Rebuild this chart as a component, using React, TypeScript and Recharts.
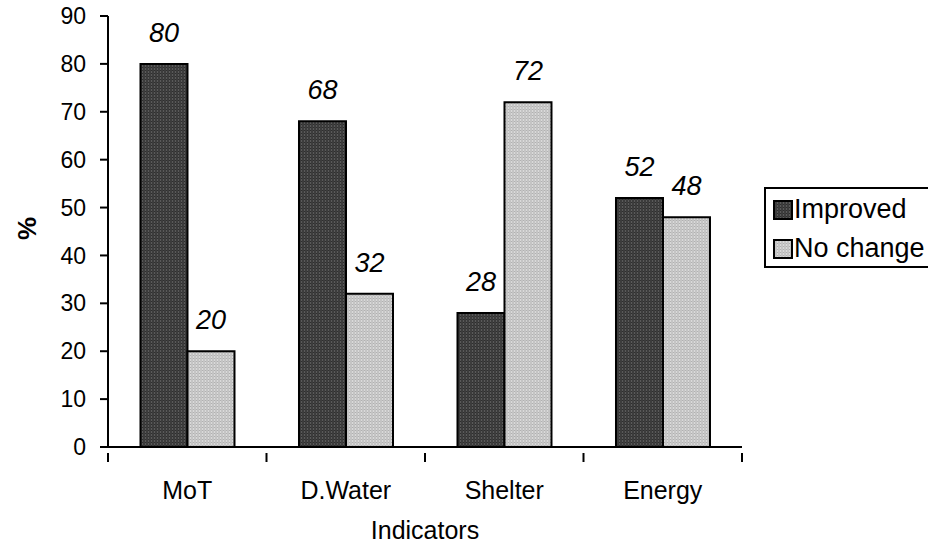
import React from 'react';
import { BarChart, Bar, XAxis, YAxis, LabelList } from 'recharts';

const indicators = ['MoT', 'D.Water', 'Shelter', 'Energy'];
const improved = [80, 68, 28, 52];
const noChange = [20, 32, 72, 48];
const yTicks = [0, 10, 20, 30, 40, 50, 60, 70, 80, 90];

const data = indicators.map((name, i) => ({
  name,
  improved: improved[i],
  noChange: noChange[i],
}));

const W = 928;
const H = 547;
const margin = { top: 16, right: 186, left: 0, bottom: 0 };
const Y_AXIS_W = 108;
const X_AXIS_H = 100;
const plotW = W - margin.right - Y_AXIS_W;
const band = plotW / indicators.length;
const FONT = '"Liberation Sans", Arial, sans-serif';

const series = [
  { key: 'improved', label: 'Improved', fill: 'url(#darkFill)' },
  { key: 'noChange', label: 'No change', fill: 'url(#lightFill)' },
];

// tick marks sit on the category boundaries, labels in the middle
const CategoryTick = (props: any) => {
  const { x, y, payload, index } = props;
  const left = x - band / 2;
  const right = x + band / 2;
  return (
    <g>
      <line x1={left} y1={y - 2} x2={left} y2={y + 7} stroke="#000" strokeWidth={2} />
      {index === indicators.length - 1 && (
        <line x1={right} y1={y - 2} x2={right} y2={y + 7} stroke="#000" strokeWidth={2} />
      )}
      <text x={x} y={y + 44} textAnchor="middle" fontSize={25} fill="#000" fontFamily={FONT}>
        {payload.value}
      </text>
    </g>
  );
};

const PercentLabel = (props: any) => {
  const { viewBox } = props;
  const cx = 27;
  const cy = viewBox.y + viewBox.height / 2 - 3;
  return (
    <text
      x={cx}
      y={cy}
      transform={`rotate(-90 ${cx} ${cy})`}
      textAnchor="middle"
      dominantBaseline="central"
      fontSize={26}
      fontWeight="bold"
      fill="#000"
      fontFamily={FONT}
    >
      %
    </text>
  );
};

// legend box runs off the right edge of the canvas
const LegendBox = () => (
  <div style={{
    position: 'absolute',
    left: 764,
    top: 187,
    width: 200,
    height: 81,
    border: '2px solid #000',
    background: '#fff',
    boxSizing: 'border-box',
    padding: '1px 0 0 7px',
    fontFamily: FONT,
    fontSize: 27,
  }}>
    {series.map(s => (
      <div key={s.key} style={{ display: 'flex', alignItems: 'center', height: 39, whiteSpace: 'nowrap' }}>
        <svg width={20} height={20} style={{ marginRight: 1 }}>
          <rect x={1} y={1} width={18} height={18} fill={s.fill} stroke="#000" strokeWidth={2} />
        </svg>
        <span>{s.label}</span>
      </div>
    ))}
  </div>
);

const patterns = (
  <svg width={0} height={0} style={{ position: 'absolute' }}>
    <defs>
      <pattern id="darkFill" width="3" height="3" patternUnits="userSpaceOnUse">
        <rect width="3" height="3" fill="#3c3c3c" />
        <rect x="1" width="1" height="3" fill="#5a5a5a" />
        <rect x="1" y="1" width="1" height="1" fill="#2e2e2e" />
      </pattern>
      <pattern id="lightFill" width="3" height="3" patternUnits="userSpaceOnUse">
        <rect width="3" height="3" fill="#c4c4c4" />
        <rect x="1" width="1" height="3" fill="#dadada" />
        <rect x="1" y="1" width="1" height="1" fill="#b0b0b0" />
      </pattern>
    </defs>
  </svg>
);

const valueLabelStyle = { fontSize: 27, fontStyle: 'italic', fill: '#000', fontFamily: FONT };

export default function App() {
  return (
    <div style={{ position: 'absolute', left: 0, top: 0, width: W, height: H, background: '#fff', overflow: 'hidden' }}>
      {patterns}
      <BarChart
        width={W}
        height={H}
        data={data}
        margin={margin}
        barCategoryGap="20.5%"
        barGap={0}
      >
        <XAxis
          dataKey="name"
          height={X_AXIS_H}
          axisLine={{ stroke: '#000', strokeWidth: 2 }}
          tickLine={false}
          tick={<CategoryTick />}
          interval={0}
          label={{ value: 'Indicators', position: 'insideBottom', offset: 8, fontSize: 25, fill: '#000', fontFamily: FONT }}
        />
        <YAxis
          width={Y_AXIS_W}
          domain={[0, 90]}
          ticks={yTicks}
          interval={0}
          axisLine={{ stroke: '#000', strokeWidth: 2 }}
          tickLine={{ stroke: '#000', strokeWidth: 2 }}
          tickSize={8}
          tickMargin={14}
          tick={{ fontSize: 23, fill: '#000', fontFamily: FONT }}
          label={{ content: <PercentLabel /> }}
        />
        {series.map(s => (
          <Bar key={s.key} dataKey={s.key} name={s.label} fill={s.fill} stroke="#000" strokeWidth={2} isAnimationActive={false}>
            <LabelList dataKey={s.key} position="top" offset={22} style={valueLabelStyle} />
          </Bar>
        ))}
      </BarChart>
      <LegendBox />
    </div>
  );
}
